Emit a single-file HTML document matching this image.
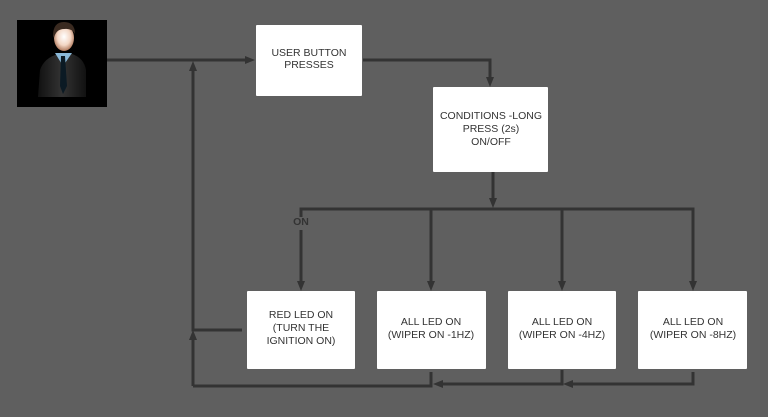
<!DOCTYPE html>
<html><head><meta charset="utf-8"><style>
html,body{margin:0;padding:0;background:#5f5f5f;}
svg{display:block}
text{font-family:"Liberation Sans",sans-serif;font-size:10.5px;fill:#333;text-anchor:middle}
</style></head><body>
<svg width="768" height="417" viewBox="0 0 768 417" xmlns="http://www.w3.org/2000/svg">
<defs>
<radialGradient id="face" cx="50%" cy="45%" r="55%"><stop offset="0" stop-color="#fff"/><stop offset="0.6" stop-color="#f3d6c4"/><stop offset="1" stop-color="#b07a5e"/></radialGradient>
<linearGradient id="suit" x1="0" x2="1"><stop offset="0" stop-color="#111"/><stop offset="0.5" stop-color="#333"/><stop offset="1" stop-color="#111"/></linearGradient>
</defs>
<rect width="768" height="417" fill="#5f5f5f"/>
<rect x="17" y="20" width="90" height="87" fill="#000"/>
<path d="M38 97 L40 70 Q44 58 58 54 L72 54 Q84 58 86 70 L86 97 Z" fill="url(#suit)"/>
<path d="M55 53 L63 66 L72 53 Z" fill="#8ab8d8"/>
<path d="M61 56 L65 56 L67 86 L63 94 L60 86 Z" fill="#0b1a24"/>
<ellipse cx="64" cy="38" rx="10" ry="13" fill="url(#face)"/>
<path d="M53 36 Q53 22 64 22 Q75 22 75 34 Q72 28 64 29 Q56 29 54 38 Z" fill="#3a2a20"/>
<g stroke="#333" stroke-width="3" fill="none">
<path d="M107 60 H248"/>
<path d="M363 60 H490 V80"/>
<path d="M493 172 V202"/>
<path d="M301 230 V286 M301 217 V209 H693 V286"/>
<path d="M431 209 V286 M562 209 V286"/>
<path d="M242 330 H193 V68"/>
<path d="M193 386 V337"/>
<path d="M431 372 V386 H193"/>
<path d="M562 370 V384 H437"/>
<path d="M693 372 V384 H568"/>
</g>
<g fill="#333">
<path d="M255 60 L245 56 L245 64 Z"/>
<path d="M490 87 L486 77 L494 77 Z"/>
<path d="M493 208 L489 198 L497 198 Z"/>
<path d="M301 291 L297 281 L305 281 Z"/>
<path d="M431 291 L427 281 L435 281 Z"/>
<path d="M562 291 L558 281 L566 281 Z"/>
<path d="M693 291 L689 281 L697 281 Z"/>
<path d="M193 61 L189 71 L197 71 Z"/>
<path d="M193 330 L189 340 L197 340 Z"/>
<path d="M433 384 L443 380 L443 388 Z"/>
<path d="M563 384 L573 380 L573 388 Z"/>
</g>
<g fill="#fff">
<rect x="256" y="25" width="106" height="71" rx="1"/>
<rect x="433" y="87" width="115" height="85" rx="1"/>
<rect x="247" y="291" width="108" height="78" rx="1"/>
<rect x="377" y="291" width="109" height="78" rx="1"/>
<rect x="508" y="291" width="108" height="78" rx="1"/>
<rect x="638" y="291" width="109" height="78" rx="1"/>
</g>
<text x="309" y="56">USER BUTTON</text>
<text x="309" y="68">PRESSES</text>
<text x="491" y="119">CONDITIONS -LONG</text>
<text x="491" y="132">PRESS (2s)</text>
<text x="491" y="145">ON/OFF</text>
<text x="301" y="318">RED LED ON</text>
<text x="301" y="331">(TURN THE</text>
<text x="301" y="344">IGNITION ON)</text>
<text x="431" y="325">ALL LED ON</text>
<text x="431" y="338">(WIPER ON -1HZ)</text>
<text x="562" y="325">ALL LED ON</text>
<text x="562" y="338">(WIPER ON -4HZ)</text>
<text x="693" y="325">ALL LED ON</text>
<text x="693" y="338">(WIPER ON -8HZ)</text>
<text x="301" y="225" style="font-weight:bold;fill:#333">ON</text>
</svg>
</body></html>
